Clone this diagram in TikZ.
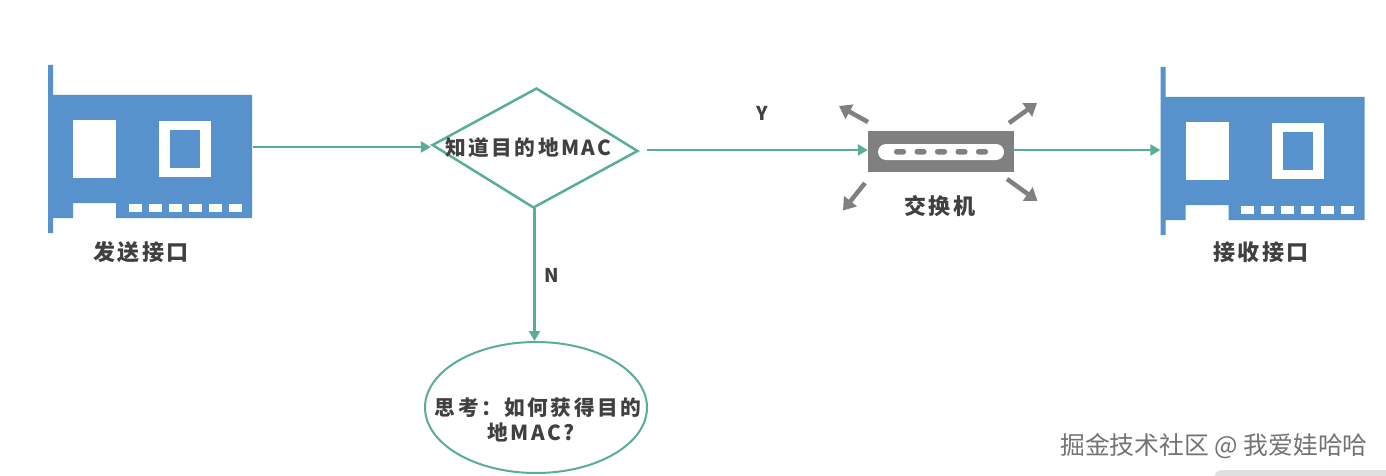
\documentclass[tikz,border=0pt]{standalone}
\usepackage{fontspec}
\setmainfont{Noto Sans CJK SC}
\newfontfamily\spacedfont[LetterSpace=12]{Noto Sans CJK SC}
\newfontfamily\capfont[LetterSpace=10]{Noto Sans CJK SC}
\usepackage{xcolor}
\usetikzlibrary{arrows.meta,positioning,shapes.geometric}
\definecolor{cardblue}{HTML}{5792CC}
\definecolor{linegreen}{HTML}{59AE94}
\definecolor{switchgray}{HTML}{808080}
\definecolor{textgray}{HTML}{404040}
\tikzset{
  flow/.style={draw=linegreen,line width=2.5pt,-{Triangle[length=10pt,width=11pt]}},
  burst/.style={draw=switchgray,line width=4.5pt,-{Triangle[length=12pt,width=16pt]}},
  caption/.style={text=textgray,font=\capfont\bfseries\fontsize{22}{26}\selectfont,inner sep=0pt},
  shapetext/.style={text=textgray,font=\spacedfont\bfseries\fontsize{20.7}{25}\selectfont,inner sep=0pt},
  letter/.style={text=textgray,font=\bfseries\fontsize{19}{23}\selectfont,inner sep=0pt},
  hole/.style={fill=white},
}
\newcommand{\cardshape}[2]{%
\begin{scope}[shift={(#1,#2)}]
\fill[cardblue] (48,65)--(53,65)--(53,95)--(252,95)--(252,218)--(116,218)--(116,203)--(73,203)--(73,218)--(53,218)--(53,233)--(48,233)--cycle;
\fill[hole] (73,120) rectangle (116,177.5);
\fill[hole] (159,121) rectangle (211,177);
\fill[cardblue] (170,130) rectangle (200,167.5);
\foreach \i in {0,...,5}
  \fill[hole] (128.7+20*\i,204) rectangle (141.7+20*\i,212);
\end{scope}}
\begin{document}
\begin{tikzpicture}[x=1pt,y=-1pt,>=Latex]
\useasboundingbox (0,0) rectangle (1386,476);
\fill[white] (0,0) rectangle (1386,476);
% cards
\cardshape{0}{0}
\cardshape{1112.5}{2}
\node[inner sep=0pt,minimum width=204pt,minimum height=123pt] (send) at (150,156.5) {};
\node[inner sep=0pt,minimum width=204pt,minimum height=123pt] (recv) at (1262.5,158.5) {};
\node[caption] (sendtxt) at (141,252) {发送接口};
\node[caption] (recvtxt) at (1261,252) {接收接口};
% decision
\begin{scope}[shift={(535,148)},xslant=0.025,yslant=-0.029]
\node[diamond,transform shape,draw=linegreen,line width=2.5pt,aspect=1.7,inner sep=0pt,minimum width=206pt,minimum height=120pt] (decide) at (0,0) {};
\end{scope}
\node[shapetext] (decidetxt) at (528.5,148) {知道目的地MAC};
\node[ellipse,draw=linegreen,line width=2pt,inner sep=0pt,minimum width=222pt,minimum height=131pt] (think) at (536,407.5) {};
\node[shapetext,align=center] (thinktxt) at (538,420) {思考：如何获得目的\\地MAC?\hspace*{14pt}};
% switch
\node[fill=switchgray,inner sep=0pt,minimum width=146pt,minimum height=40pt] (switch) at (941,151.5) {};
\fill[hole,rounded corners=8pt] (878,144) rectangle (1004,160);
\foreach \i in {0,...,4}
  \fill[switchgray,rounded corners=2.5pt] (894+20.5*\i,149) rectangle (906+20.5*\i,154.5);
\node[caption] (switchtxt) at (940,206) {交换机};
\coordinate (nwa) at (868,122);
\coordinate (nwb) at (839,106);
\coordinate (nea) at (1009,123);
\coordinate (neb) at (1037,103);
\coordinate (swa) at (865,183);
\coordinate (swb) at (843,210.5);
\coordinate (sea) at (1007,179);
\coordinate (seb) at (1037.5,201);
\draw[burst] (nwa)--(nwb);
\draw[burst] (nea)--(neb);
\draw[burst] (swa)--(swb);
\draw[burst] (sea)--(seb);
% connectors
\coordinate (sout) at (253,147);
\coordinate (dout) at (647,150);
\coordinate (nout) at (534.5,208);
\coordinate (wout) at (1014,150);
\draw[flow] (sout)--(decide.west |- sout);
\draw[flow] (dout)--(switch.west |- dout);
\draw[flow] (wout)--(recv.west |- wout);
\draw[flow] (nout)--(nout |- think.north);
\node[letter] (ytxt) at (762,113) {Y};
\node[letter] (ntxt) at (552,275) {N};
% watermark
\node[text=black!55,font=\fontsize{24.8}{29}\selectfont,inner sep=0pt] (mark) at (1214,446) {掘金技术社区 @ 我爱娃哈哈};
\fill[black!12,rounded corners=8pt] (1214,470) rectangle (1400,490);
\end{tikzpicture}
\end{document}
